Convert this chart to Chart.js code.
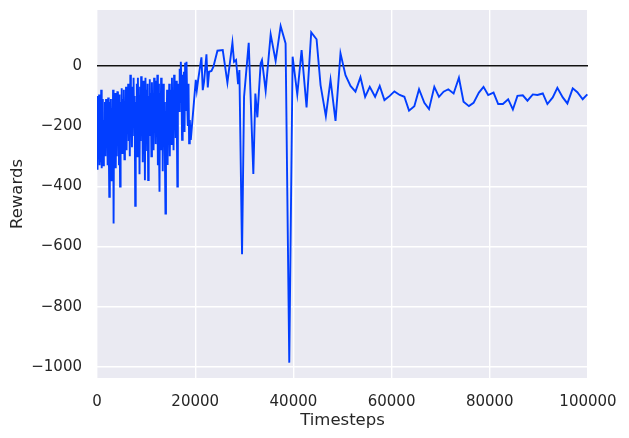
<!DOCTYPE html>
<html>
<head>
<meta charset="utf-8">
<script src="https://cdn.jsdelivr.net/npm/chart.js@4/dist/chart.umd.min.js"></script>
<style>
  html, body { margin: 0; padding: 0; background: #fff; }
  #wrap { width: 629px; height: 438px; }
</style>
</head>
<body>
<div id="wrap"><canvas id="canvasGrafico"></canvas></div>
<script>
// episode end timesteps and episode rewards
const timesteps = [
  0, 110, 215, 320, 425, 530, 640, 745, 850, 960, 1065, 1180, 1290, 1400, 1505, 1620, 1730, 1840, 1950,
  2060, 2165, 2280, 2390, 2500, 2610, 2715, 2830, 2940, 3050, 3160, 3270, 3380, 3490, 3600, 3710, 3820, 3930,
  4040, 4150, 4265, 4370, 4480, 4590, 4700, 4810, 4920, 5030, 5140, 5250, 5365, 5470, 5580, 5690, 5800, 5910,
  6020, 6130, 6240, 6350, 6460, 6570, 6680, 6790, 6900, 7010, 7120, 7230, 7340, 7450, 7560, 7670, 7780, 7890, 8000,
  8110, 8220, 8330, 8440, 8550, 8660, 8770, 8880, 8990, 9100, 9210, 9320, 9430, 9540, 9650, 9760, 9870, 9980,
  10090, 10200, 10310, 10420, 10530, 10640, 10750, 10860, 10970, 11080, 11190, 11300, 11410, 11520, 11630, 11740, 11850,
  11960, 12070, 12180, 12290, 12400, 12510, 12620, 12730, 12840, 12950, 13060, 13170, 13280, 13390, 13500, 13610,
  13720, 13830, 13940, 14050, 14160, 14270, 14380, 14490, 14600, 14710, 14820, 14930, 15040, 15150, 15260, 15370,
  15480, 15590, 15700, 15810, 15920, 16030, 16140, 16250, 16360, 16470,
  16600, 16720, 16840, 16960, 17070, 17200, 17320, 17450, 17580, 17700, 17830, 17950, 18080, 18230, 18370, 18500,
  18640, 18760, 18900, 19100,
  20120, 20330, 20600, 21270, 21540, 21810, 22290, 22560, 22830, 23310, 23710, 24530, 25610, 26560, 27580, 27910,
  28320, 28730, 29000, 29540, 29950, 30900, 31840, 32250, 32660, 33330, 33600, 34350, 35370, 36380, 37400, 38410,
  39160, 39840, 40790, 41670, 42680, 43630, 44720, 45530, 46610, 47560, 48580, 49590,
  50610, 51630, 52640, 53660, 54610, 55550, 56640, 57580, 58540, 59620, 60570, 61650, 62600, 63550, 64630, 65590,
  66670, 67620, 68700, 69650, 70590, 71540, 72630, 73710, 74650, 75750, 76690, 77780, 78720, 79670, 80760, 81710,
  82660, 83740, 84700, 85630, 86720, 87670, 88760, 89700, 90790, 91730, 92820, 93760, 94860, 95800, 96890, 97830,
  98920, 99860
];

const rewards = [
  -100, -345, -120, -300, -95, -330, -150, -320, -80, -340, -170, -110, -330, -180, -260, -120, -300, -110, -270,
  -140, -330, -105, -250, -435, -120, -280, -110, -380, -140, -300, -80, -523, -100, -260, -90, -340, -120,
  -300, -85, -250, -110, -330, -95, -401, -120, -260, -75, -290, -110, -200, -80, -310, -130, -240, -70,
  -280, -100, -180, -60, -250, -90, -300, -30, -220, -110, -270, -70, -180, -40, -230, -100, -465, -120, -240,
  -60, -300, -40, -200, -110, -360, -70, -250, -35, -190, -90, -320, -50, -260, -120, -380, -40, -200,
  -80, -280, -60, -379, -100, -230, -45, -190, -90, -300, -55, -210, -120, -280, -40, -160, -70,
  -260, -50, -200, -30, -330, -60, -250, -418, -90, -200, -40, -280, -100, -350, -60, -230,
  -120, -300, -490, -150, -260, -80, -329, -100, -220, -60, -300, -180, -80, -260, -40, -200,
  -100, -280, -30, -190, -90, -240, -50, -180, -401, -110,
  -60, -150, -10, -120, 13, -60, -246, -30, -100, -20, -220, 10, -150, 13, -120, -200,
  -60, -257, -180, -246,
  -47, -81, -47, 28, -81, -53, 38, -72, -20, -17, -3, 50, 52, -56, 77, 13,
  19, -61, -14, -625, -103, 76, -359, -92, -171, 8, 19, -83, 104, 16, 132, 74,
  -985, 30, -95, 52, -138, 111, 88, -64, -167, -47, -183, 41,
  -31, -67, -86, -38, -103, -70, -103, -67, -114, -100, -85, -97, -103, -149, -134, -78,
  -123, -144, -70, -103, -86, -78, -92, -40, -119, -134, -123, -89, -70, -97, -89, -127,
  -127, -111, -145, -100, -98, -116, -95, -97, -92, -127, -105, -73, -105, -125, -75, -88,
  -111, -95
];

const xTicks = [0, 20000, 40000, 60000, 80000, 100000];
const yTicks = [-1000, -800, -600, -400, -200, 0];
const yLimits = [-1036, 185];
const zeroLevel = [0, 0];

const textColor = '#262626';
const fontFamily = '"DejaVu Sans", sans-serif';

const pontos = timesteps.map(function (t, i) { return { x: t, y: rewards[i] }; });
const linhaZero = [
  { x: xTicks[0], y: zeroLevel[0] },
  { x: xTicks[xTicks.length - 1], y: zeroLevel[1] }
];

function menos(v) {
  return v < 0 ? '\u2212' + Math.abs(v) : String(v);
}

const fundo = {
  id: 'fundo',
  beforeDraw: function (chart) {
    const a = chart.chartArea;
    const ctx = chart.ctx;
    ctx.save();
    ctx.fillStyle = '#EAEAF2';
    ctx.fillRect(a.left, a.top, a.right - a.left, a.bottom - a.top);
    ctx.restore();
  }
};

const data = {
  datasets: [{
    label: 'Rewards',
    data: pontos,
    borderColor: '#023EFF',
    borderWidth: 1.9,
    pointRadius: 0,
    tension: 0,
    order: 1
  }, {
    label: 'zero',
    data: linhaZero,
    borderColor: '#111111',
    borderWidth: 1.5,
    pointRadius: 0,
    order: 2
  }]
};

const config = {
  type: 'line',
  data: data,
  options: {
    responsive: true,
    maintainAspectRatio: false,
    animation: false,
    events: [],
    layout: { padding: { top: 10, right: 41, left: 0, bottom: 0 } },
    plugins: { legend: { display: false }, tooltip: { enabled: false } },
    scales: {
      x: {
        type: 'linear',
        min: xTicks[0],
        max: xTicks[xTicks.length - 1],
        afterBuildTicks: function (s) { s.ticks = xTicks.map(function (v) { return { value: v }; }); },
        afterFit: function (s) {
          s.height = 60;
          s.paddingLeft = 0; s.paddingRight = 0; s.paddingTop = 0; s.paddingBottom = 0;
        },
        grid: { color: '#ffffff', lineWidth: 1.4, drawTicks: false },
        border: { display: false },
        ticks: {
          padding: 15,
          maxRotation: 0,
          autoSkip: false,
          color: textColor,
          font: { family: fontFamily, size: 15 },
          callback: function (v) { return menos(v); }
        },
        title: {
          display: true,
          text: 'Timesteps',
          color: textColor,
          font: { family: fontFamily, size: 16.5 },
          padding: { top: 0, bottom: 7 }
        }
      },
      y: {
        type: 'linear',
        min: yLimits[0],
        max: yLimits[1],
        afterBuildTicks: function (s) { s.ticks = yTicks.map(function (v) { return { value: v }; }); },
        afterFit: function (s) {
          s.width = 97;
          s.paddingLeft = 0; s.paddingRight = 0; s.paddingTop = 0; s.paddingBottom = 0;
        },
        grid: { color: '#ffffff', lineWidth: 1.4, drawTicks: false },
        border: { display: false },
        ticks: {
          padding: 15,
          color: textColor,
          font: { family: fontFamily, size: 15 },
          callback: function (v) { return menos(v); }
        },
        title: {
          display: true,
          text: 'Rewards',
          color: textColor,
          font: { family: fontFamily, size: 16.5 },
          padding: { top: 8, bottom: 0 }
        }
      }
    }
  },
  plugins: [fundo]
};

const graficoDash = new Chart(document.getElementById('canvasGrafico'), config);
</script>
</body>
</html>
